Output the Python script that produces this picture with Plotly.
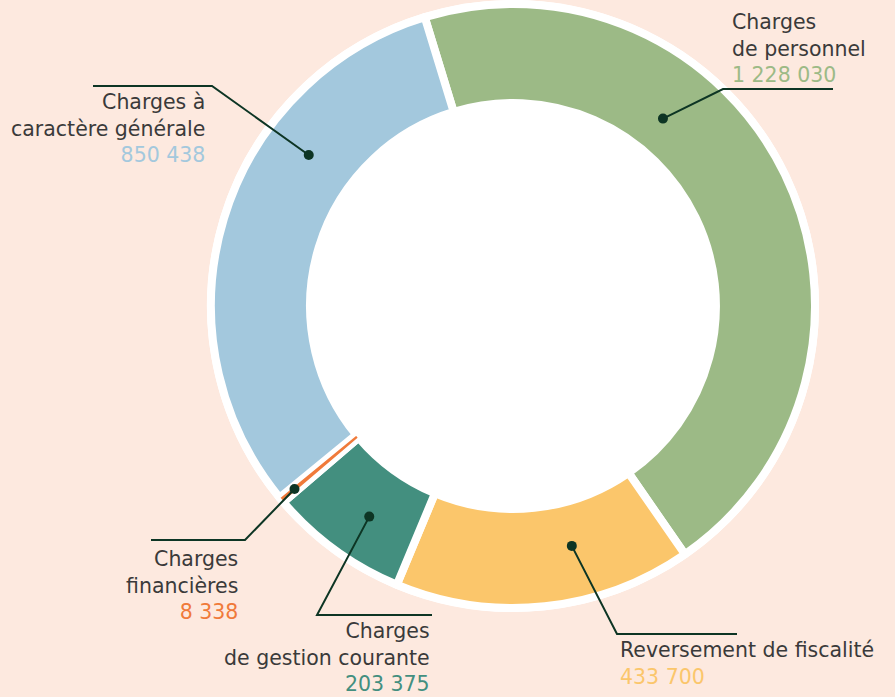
import math
import plotly.graph_objects as go

# ---- data ----
labels = ["Charges<br>de personnel", "Reversement de fiscalité",
          "Charges<br>de gestion courante", "Charges<br>financières",
          "Charges à<br>caractère générale"]
values = [1228030, 433700, 203375, 8338, 850438]
colors = ["#9cba86", "#fbc66b", "#438f7f", "#f07a3a", "#a3c8dd"]

# ---- layout constants ----
W, H = 895, 697
CX, CY, R = 513, 306, 302
HOLE = 0.672
GAP = 8
START = -17  # degrees, clockwise from 12 o'clock
BG = "#fde9df"
LINE = "#0d3524"
TXT = "#3a3a3a"
FONT = "DejaVu Sans"
FS = 20.5

dot_frac = [0.343, 0.365, 0.435, 0.5, 0.675]
dot_rad = [240, 247, 255, 285, 254]
elbows = [(723, 89), (617, 634), (317, 615), (245, 540), (212, 86)]
ends = [(833, 89), (737, 634), (432, 615), (151, 540), (93, 86)]
txt_x = [730, 618, 432, 240, 207]
txt_top = [15, 643, 624, 552, 95]
txt_align = ["left", "left", "right", "right", "right"]

total = sum(values)

fig = go.Figure()

dom_x = [(CX - R) / W, (CX + R) / W]
dom_y = [(H - CY - R) / H, (H - CY + R) / H]

fig.add_trace(go.Pie(
    values=values, labels=[l.replace("<br>", " ") for l in labels],
    sort=False, direction="clockwise", rotation=START, hole=HOLE,
    marker=dict(colors=colors, line=dict(color="white", width=GAP)),
    textinfo="none", hoverinfo="skip", showlegend=False,
    domain=dict(x=dom_x, y=dom_y)))

# overlay so the tiny slice stays visible
ov_colors = ["rgba(0,0,0,0)" if v / total > 0.01 else c for v, c in zip(values, colors)]
ov_lines = ["rgba(0,0,0,0)" if v / total > 0.01 else "white" for v in values]
fig.add_trace(go.Pie(
    values=values, labels=[l.replace("<br>", " ") for l in labels],
    sort=False, direction="clockwise", rotation=START, hole=HOLE,
    marker=dict(colors=ov_colors, line=dict(color=ov_lines, width=1.5)),
    textinfo="none", hoverinfo="skip", showlegend=False,
    domain=dict(x=dom_x, y=dom_y)))

# white outer ring behind the donut
RING = 306
fig.add_shape(type="circle", xref="x", yref="y", layer="below",
              x0=CX - RING, x1=CX + RING, y0=CY - RING, y1=CY + RING,
              fillcolor="white", line=dict(width=0))

cum = 0
annotations = []
for i, v in enumerate(values):
    a = math.radians(START + (cum + dot_frac[i] * v) / total * 360)
    cum += v
    dx = CX + dot_rad[i] * math.sin(a)
    dy = CY - dot_rad[i] * math.cos(a)
    ex, ey = elbows[i]
    fx, fy = ends[i]
    fig.add_shape(type="path", xref="x", yref="y", layer="above",
                  path=f"M {dx:.1f} {dy:.1f} L {ex} {ey} L {fx} {fy}",
                  line=dict(color=LINE, width=2))
    fig.add_shape(type="circle", xref="x", yref="y", layer="above",
                  x0=dx - 5, x1=dx + 5, y0=dy - 5, y1=dy + 5,
                  fillcolor=LINE, line=dict(width=0))
    val_txt = f"{v:,}".replace(",", " ")
    annotations.append(dict(
        x=txt_x[i], y=txt_top[i] - 7, xref="x", yref="y",
        xanchor="left" if txt_align[i] == "left" else "right",
        yanchor="top", align=txt_align[i], showarrow=False,
        text=f"{labels[i]}<br><span style='color:{colors[i]}'>{val_txt}</span>",
        font=dict(family=FONT, size=FS, color=TXT)))

fig.update_layout(
    width=W, height=H, margin=dict(l=0, r=0, t=0, b=0),
    paper_bgcolor=BG, plot_bgcolor=BG,
    xaxis=dict(range=[0, W], visible=False, fixedrange=True),
    yaxis=dict(range=[H, 0], visible=False, fixedrange=True),
    annotations=annotations)

fig.write_html("out.html", config={"displayModeBar": False},
               post_script="document.body.style.margin='0';"
                           "document.body.style.background='" + BG + "';")
